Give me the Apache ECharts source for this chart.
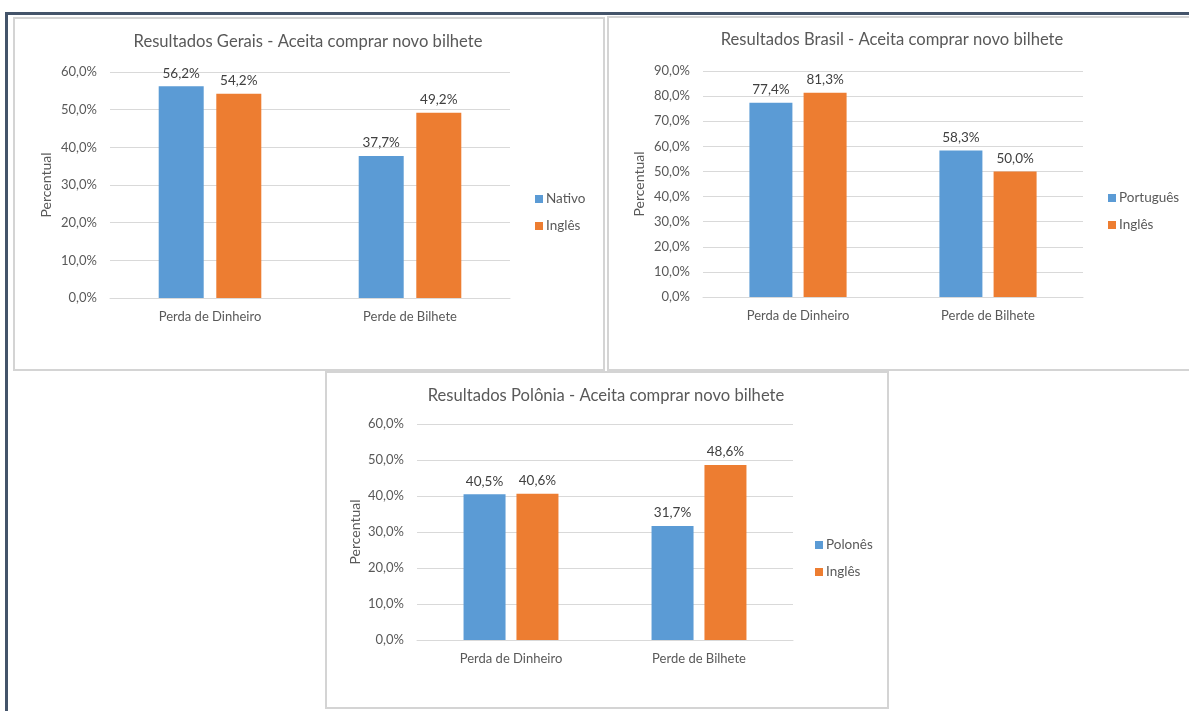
<!DOCTYPE html>
<html>
<head>
<meta charset="utf-8">
<script src="https://cdn.jsdelivr.net/npm/echarts@6/dist/echarts.min.js"></script>
<style>
html,body{margin:0;padding:0;background:#fff;}
#c{width:1189px;height:711px;}
</style>
</head>
<body>
<div id="c"></div>
<script>
// ---- data ----
const categories = ['Perda de Dinheiro', 'Perde de Bilhete'];

const titleGeral = 'Resultados Gerais - Aceita comprar novo bilhete';
const geralNativo = [56.2, 37.7];
const geralIngles = [54.2, 49.2];

const titleBrasil = 'Resultados Brasil - Aceita comprar novo bilhete';
const brasilPortugues = [77.4, 58.3];
const brasilIngles = [81.3, 50.0];

const titlePolonia = 'Resultados Polônia - Aceita comprar novo bilhete';
const poloniaPolones = [40.5, 31.7];
const poloniaIngles = [40.6, 48.6];

const seriesNames = [['Nativo', 'Inglês'], ['Português', 'Inglês'], ['Polonês', 'Inglês']];
const yMax = [60, 90, 60];
const yInterval = 10;
const axisName = 'Percentual';

// ---- style ----
const FONT = 'Lato';
const BLUE = '#5B9BD5';
const ORANGE = '#ED7D31';
const TXT = '#595959';
const LBL = '#404040';
const GRID = '#D9D9D9';

const fmtPct = v => v.toFixed(1).replace('.', ',') + '%';

const grids = [
  {left: 110, top: 72, width: 400, height: 226},
  {left: 703, top: 71, width: 380, height: 226},
  {left: 417, top: 424, width: 376, height: 216}
];
const barW = [45, 43, 42];
const barGap = ['28%', '26%', '26%'];
const titlePos = [[308, 33], [892, 31], [606, 387]];
const legendPos = [[535, 192], [1108, 191], [815, 538]];
const nameGap = [57, 57, 55];

const dataSets = [[geralNativo, geralIngles], [brasilPortugues, brasilIngles], [poloniaPolones, poloniaIngles]];
const titles = [titleGeral, titleBrasil, titlePolonia];

const xAxis = [], yAxis = [], series = [], legend = [], title = [];
for (let i = 0; i < 3; i++) {
  xAxis.push({
    type: 'category', gridIndex: i, data: categories,
    axisLine: {show: true, lineStyle: {color: GRID, width: 1}},
    axisTick: {show: false},
    axisLabel: {color: TXT, fontFamily: FONT, fontSize: 13, margin: 12}
  });
  yAxis.push({
    type: 'value', gridIndex: i, min: 0, max: yMax[i], interval: yInterval,
    axisLine: {show: false}, axisTick: {show: false},
    splitLine: {lineStyle: {color: GRID, width: 1}},
    axisLabel: {color: TXT, fontFamily: FONT, fontSize: 13, margin: 13, formatter: v => fmtPct(v)},
    name: axisName, nameLocation: 'middle', nameRotate: 90, nameGap: nameGap[i],
    nameTextStyle: {color: TXT, fontFamily: FONT, fontSize: 14}
  });
  const cols = [BLUE, ORANGE];
  for (let s = 0; s < 2; s++) {
    series.push({
      type: 'bar', name: seriesNames[i][s], xAxisIndex: i, yAxisIndex: i,
      data: dataSets[i][s], barWidth: barW[i], barGap: barGap[i],
      itemStyle: {color: cols[s]},
      label: {show: true, position: 'top', distance: 6, color: LBL, fontFamily: FONT, fontSize: 13.5,
        formatter: p => fmtPct(p.value)}
    });
  }
  legend.push({
    data: seriesNames[i].map((n, k) => ({name: n, itemStyle: {color: cols[k]}})),
    orient: 'vertical', left: legendPos[i][0], top: legendPos[i][1],
    icon: 'rect', itemWidth: 8, itemHeight: 8, itemGap: 13, padding: 0,
    textStyle: {color: TXT, fontFamily: FONT, fontSize: 13.5, padding: [0, 0, 0, -2]},
    selectedMode: false
  });
  title.push({
    text: titles[i], left: titlePos[i][0], top: titlePos[i][1], textAlign: 'center', padding: 0,
    textStyle: {color: TXT, fontFamily: FONT, fontSize: 16.6, fontWeight: 'normal'}
  });
}

const chart = echarts.init(document.getElementById('c'), null, {renderer: 'canvas'});
chart.setOption({
  backgroundColor: '#ffffff',
  animation: false,
  graphic: [
    {type: 'rect', shape: {x: 14, y: 18, width: 590, height: 352}, style: {fill: '#fff', stroke: '#D4D4D4', lineWidth: 2}, z: -10},
    {type: 'rect', shape: {x: 608, y: 17, width: 590, height: 353}, style: {fill: '#fff', stroke: '#D4D4D4', lineWidth: 2}, z: -10},
    {type: 'rect', shape: {x: 326, y: 372, width: 562, height: 336}, style: {fill: '#fff', stroke: '#D4D4D4', lineWidth: 2}, z: -10},
    {type: 'rect', shape: {x: 5, y: 12, width: 1190, height: 3}, style: {fill: '#44546A'}, z: -5},
    {type: 'rect', shape: {x: 5, y: 12, width: 3, height: 700}, style: {fill: '#44546A'}, z: -5}
  ],
  title: title,
  legend: legend,
  grid: grids,
  xAxis: xAxis,
  yAxis: yAxis,
  series: series
});
</script>
</body>
</html>
